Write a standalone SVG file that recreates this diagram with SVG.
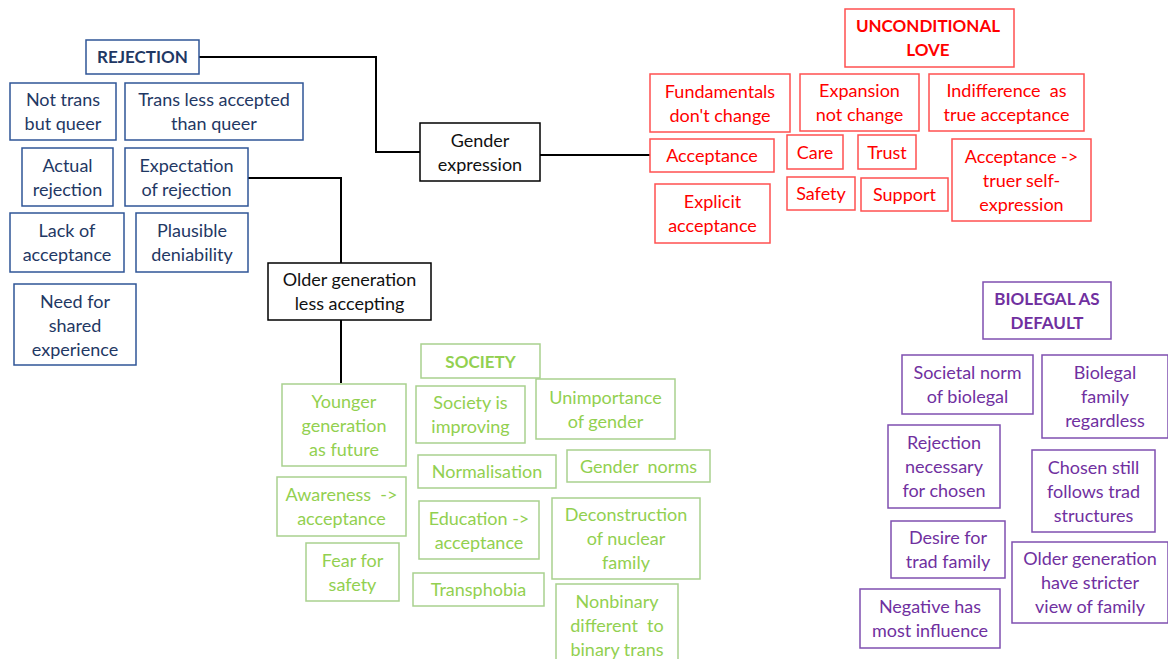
<svg xmlns="http://www.w3.org/2000/svg" width="1168" height="659" viewBox="0 0 1168 659">
<style>
text{font-family:Lato,"Open Sans","Liberation Sans",sans-serif;font-size:18px;text-anchor:middle}
rect{fill:#fff;stroke-width:1.5}
.b rect{stroke:#2F5597}.b text{fill:#1F3864}
.k rect{stroke:#000}.k text{fill:#111}
.r rect{stroke:#FF5050}.r text{fill:#FF0000}
.g rect{stroke:#A9D18E}.g text{fill:#92D050}
.p rect{stroke:#7F4FB0}.p text{fill:#7030A0}
.h text{font-weight:bold;font-size:17px}
#connectors path{fill:none;stroke:#000;stroke-width:2}
</style>
<rect x="0" y="0" width="1168" height="659" fill="#fff" stroke="none"/>
<g id="connectors">
<path d="M199,57 H376 V152 H420"/>
<path d="M540,155 H650"/>
<path d="M248,178 H341 V263"/>
<path d="M341,320 V383"/>
</g>
<g id="rejection" class="b h"><rect x="86" y="40" width="113" height="34"/><text x="142.5" y="63">REJECTION</text></g>
<g id="not-trans" class="b"><rect x="10" y="83" width="106" height="57"/><text x="63" y="106"><tspan x="63">Not trans</tspan><tspan x="63" dy="24">but queer</tspan></text></g>
<g id="trans-less" class="b"><rect x="125" y="83" width="178" height="57"/><text x="214" y="106"><tspan x="214">Trans less accepted</tspan><tspan x="214" dy="24">than queer</tspan></text></g>
<g id="actual-rejection" class="b"><rect x="22" y="148" width="91" height="58"/><text y="171.5"><tspan x="67.5">Actual</tspan><tspan x="67.5" dy="24">rejection</tspan></text></g>
<g id="expectation" class="b"><rect x="125" y="148" width="123" height="58"/><text y="171.5"><tspan x="186.5">Expectation</tspan><tspan x="186.5" dy="24">of rejection</tspan></text></g>
<g id="lack" class="b"><rect x="10" y="213" width="114" height="59"/><text y="237"><tspan x="67">Lack of</tspan><tspan x="67" dy="24">acceptance</tspan></text></g>
<g id="plausible" class="b"><rect x="136" y="213" width="112" height="59"/><text y="237"><tspan x="192">Plausible</tspan><tspan x="192" dy="24">deniability</tspan></text></g>
<g id="need" class="b"><rect x="14" y="284" width="122" height="81"/><text y="307.5"><tspan x="75">Need for</tspan><tspan x="75" dy="24">shared</tspan><tspan x="75" dy="24">experience</tspan></text></g>

<g id="gender-expression" class="k"><rect x="420" y="123" width="120" height="58"/><text y="146.5"><tspan x="480">Gender</tspan><tspan x="480" dy="24">expression</tspan></text></g>
<g id="older-gen" class="k"><rect x="268" y="263" width="163" height="57"/><text y="286"><tspan x="349.5">Older generation</tspan><tspan x="349.5" dy="24">less accepting</tspan></text></g>

<g id="unconditional" class="r h"><rect x="845" y="9" width="169" height="58"/><text y="32"><tspan x="928">UNCONDITIONAL</tspan><tspan x="928" dy="24">LOVE</tspan></text></g>
<g id="fundamentals" class="r"><rect x="650" y="74" width="140" height="58"/><text y="97.5"><tspan x="720">Fundamentals</tspan><tspan x="720" dy="24">don't change</tspan></text></g>
<g id="expansion" class="r"><rect x="800" y="74" width="119" height="57"/><text y="97"><tspan x="859.5">Expansion</tspan><tspan x="859.5" dy="24">not change</tspan></text></g>
<g id="indifference" class="r"><rect x="929" y="74" width="155" height="57"/><text y="97"><tspan x="1006.5" xml:space="preserve">Indifference  as</tspan><tspan x="1006.5" dy="24">true acceptance</tspan></text></g>
<g id="acceptance" class="r"><rect x="650" y="139" width="124" height="33"/><text x="712" y="162">Acceptance</text></g>
<g id="care" class="r"><rect x="787" y="135" width="56" height="34"/><text x="815" y="158.5">Care</text></g>
<g id="trust" class="r"><rect x="858" y="135" width="58" height="34"/><text x="887" y="158.5">Trust</text></g>
<g id="truer" class="r"><rect x="952" y="139" width="139" height="82"/><text y="162.5"><tspan x="1021.5">Acceptance -&gt;</tspan><tspan x="1021.5" dy="24">truer self-</tspan><tspan x="1021.5" dy="24">expression</tspan></text></g>
<g id="explicit" class="r"><rect x="655" y="184" width="115" height="59"/><text y="208"><tspan x="712.5">Explicit</tspan><tspan x="712.5" dy="24">acceptance</tspan></text></g>
<g id="safety" class="r"><rect x="787" y="177" width="68" height="33"/><text x="821" y="200">Safety</text></g>
<g id="support" class="r"><rect x="861" y="178" width="87" height="33"/><text x="904.5" y="201">Support</text></g>

<g id="society" class="g h"><rect x="421" y="344" width="119" height="34"/><text x="480.5" y="367.5">SOCIETY</text></g>
<g id="younger" class="g"><rect x="282" y="384" width="124" height="82"/><text y="407.5"><tspan x="344">Younger</tspan><tspan x="344" dy="24">generation</tspan><tspan x="344" dy="24">as future</tspan></text></g>
<g id="improving" class="g"><rect x="416" y="386" width="109" height="57"/><text y="409"><tspan x="470.5">Society is</tspan><tspan x="470.5" dy="24">improving</tspan></text></g>
<g id="unimportance" class="g"><rect x="536" y="379" width="139" height="60"/><text y="403.5"><tspan x="605.5">Unimportance</tspan><tspan x="605.5" dy="24">of gender</tspan></text></g>
<g id="normalisation" class="g"><rect x="418" y="455" width="138" height="33"/><text x="487" y="478">Normalisation</text></g>
<g id="gender-norms" class="g"><rect x="567" y="450" width="143" height="32"/><text x="638.5" y="472.5" xml:space="preserve">Gender  norms</text></g>
<g id="awareness" class="g"><rect x="277" y="477" width="129" height="59"/><text y="501"><tspan x="341.5" xml:space="preserve">Awareness  -&gt;</tspan><tspan x="341.5" dy="24">acceptance</tspan></text></g>
<g id="education" class="g"><rect x="419" y="501" width="120" height="58"/><text y="524.5"><tspan x="479">Education -&gt;</tspan><tspan x="479" dy="24">acceptance</tspan></text></g>
<g id="deconstruction" class="g"><rect x="552" y="498" width="148" height="81"/><text y="521"><tspan x="626">Deconstruction</tspan><tspan x="626" dy="24">of nuclear</tspan><tspan x="626" dy="24">family</tspan></text></g>
<g id="fear" class="g"><rect x="306" y="543" width="93" height="58"/><text y="566.5"><tspan x="352.5">Fear for</tspan><tspan x="352.5" dy="24">safety</tspan></text></g>
<g id="transphobia" class="g"><rect x="413" y="573" width="131" height="33"/><text x="478.5" y="596">Transphobia</text></g>
<g id="nonbinary" class="g"><rect x="556" y="584" width="122" height="90"/><text y="608"><tspan x="617">Nonbinary</tspan><tspan x="617" dy="24" xml:space="preserve">different  to</tspan><tspan x="617" dy="24">binary trans</tspan></text></g>

<g id="biolegal" class="p h"><rect x="983" y="282" width="128" height="57"/><text y="305"><tspan x="1047">BIOLEGAL AS</tspan><tspan x="1047" dy="24">DEFAULT</tspan></text></g>
<g id="societal-norm" class="p"><rect x="902" y="355" width="131" height="59"/><text y="379"><tspan x="967.5">Societal norm</tspan><tspan x="967.5" dy="24">of biolegal</tspan></text></g>
<g id="biolegal-family" class="p"><rect x="1042" y="355" width="126" height="83"/><text y="379"><tspan x="1105">Biolegal</tspan><tspan x="1105" dy="24">family</tspan><tspan x="1105" dy="24">regardless</tspan></text></g>
<g id="rejection-necessary" class="p"><rect x="888" y="425" width="112" height="83"/><text y="449"><tspan x="944">Rejection</tspan><tspan x="944" dy="24">necessary</tspan><tspan x="944" dy="24">for chosen</tspan></text></g>
<g id="chosen-still" class="p"><rect x="1032" y="450" width="123" height="82"/><text y="473.5"><tspan x="1093.5">Chosen still</tspan><tspan x="1093.5" dy="24">follows trad</tspan><tspan x="1093.5" dy="24">structures</tspan></text></g>
<g id="desire" class="p"><rect x="891" y="521" width="114" height="57"/><text y="544"><tspan x="948">Desire for</tspan><tspan x="948" dy="24">trad family</tspan></text></g>
<g id="older-stricter" class="p"><rect x="1012" y="542" width="156" height="81"/><text y="565"><tspan x="1090">Older generation</tspan><tspan x="1090" dy="24">have stricter</tspan><tspan x="1090" dy="24">view of family</tspan></text></g>
<g id="negative" class="p"><rect x="860" y="589" width="140" height="59"/><text y="613"><tspan x="930">Negative has</tspan><tspan x="930" dy="24">most influence</tspan></text></g>
</svg>
